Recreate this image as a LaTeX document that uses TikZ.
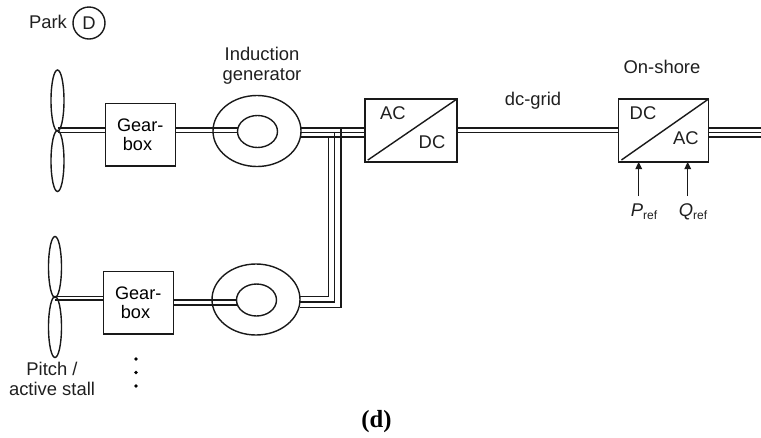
\documentclass[tikz,border=0pt]{standalone}
\usepackage{fontspec}
\setmainfont{Liberation Sans}
\newfontfamily\capfont{Liberation Serif}
\usetikzlibrary{shapes.geometric,arrows.meta}
\def\pxu{0.75pt}
\newcommand{\refsub}[1]{\textit{#1}\raisebox{-2.2pt}{\fontsize{9}{9}\selectfont ref}}
\tikzset{
  wire/.style={line width=1.05pt,black!90},
  shape line/.style={draw=black!90,line width=1.05pt,inner sep=0pt,outer sep=0pt},
  ell/.style={shape line,ellipse},
  blade/.style={ell,minimum width=13*\pxu,minimum height=61*\pxu},
  genout/.style={ell,minimum width=88*\pxu,minimum height=71*\pxu},
  genin/.style={ell,minimum width=40*\pxu,minimum height=32*\pxu},
  gearbox/.style={shape line,rectangle,minimum width=70*\pxu,minimum height=62.5*\pxu,align=center,font=\fontsize{13.6}{15}\selectfont},
  conv/.style={shape line,rectangle,minimum width=90*\pxu,minimum height=63*\pxu},
  lbl/.style={inner sep=0pt,outer sep=0pt,align=center,text=black!88,font=\fontsize{13.8}{15}\selectfont},
  diag/.style={line width=1.05pt,black!90,shorten <=2.5pt},
  ref arrow/.style={line width=1.1pt,black!90,-{Triangle[length=5.5pt,width=5pt]}},
  dotm/.style={circle,fill=black,inner sep=0pt,minimum size=2.9pt}
}
\begin{document}
\begin{tikzpicture}[x=0.75pt,y=-0.75pt]
\useasboundingbox (0,0) rectangle (761,437);
% levels
\foreach \n/\v in {a/128,b/132.5,c/137,d/296.5,e/300,f/302,g/305,h/307.5}{\coordinate (lv\n) at (0,\v);}
% park
\node[lbl] (park) at (48,22) {Park};
\node[shape line,circle,minimum size=32*\pxu] (parkc) at (89,23) {};
\node[lbl] (parkd) at (89,23) {D};
% upper string
\node[blade] (bl1a) at (57.5,100.5) {};
\node[blade] (bl1b) at (57.5,161) {};
\node[gearbox] (gb1) at (140.2,134.8) {Gear-\\[-0.5pt]\hspace*{-4pt}box};
\node[genout] (go1) at (257,131) {};
\node[genin] (gi1) at (257.5,131.5) {};
\node[lbl] (ig) at (262,66) {Induction\\generator};
\node[conv,minimum width=92*\pxu] (c1) at (411,130.5) {};
\node[conv] (c2) at (663.7,130.4) {};
% lower string
\node[blade] (bl2a) at (55,267) {};
\node[blade] (bl2b) at (55,327) {};
\node[gearbox] (gb2) at (138.2,302.7) {Gear-\\[-0.5pt]\hspace*{-4pt}box};
\node[genout] (go2) at (256,299.5) {};
\node[genin] (gi2) at (256.5,300) {};
% shafts
\draw[wire] (bl1a.south|-lva) -- (gb1.west|-lva);
\draw[wire] (bl1a.south|-lvb) -- (gb1.west|-lvb);
\draw[wire] (gb1.east|-lva) -- (gi1.west|-lva);
\draw[wire] (gb1.east|-lvb) -- (gi1.west|-lvb);
\draw[wire] (bl2a.south|-lvd) -- (gb2.west|-lvd);
\draw[wire] (bl2a.south|-lve) -- (gb2.west|-lve);
\draw[wire] (gb2.east|-lve) -- (gi2.west|-lve);
\draw[wire] (gb2.east|-lvg) -- (gi2.west|-lvg);
% stator / rotor lines to converter
\draw[wire] (go1.east|-lva) -- (c1.west|-lva);
\draw[wire] (go1.east|-lvb) -- (c1.west|-lvb);
\draw[wire] (go1.east|-lvc) -- (c1.west|-lvc);
% collector
\coordinate (v1) at (328.5,0);
\coordinate (v2) at (334.5,0);
\coordinate (v3) at (341,0);
\draw[wire] (v1|-lvc) -- (v1|-lvd) -- (go2.east|-lvd);
\draw[wire] (v2|-lvb) -- (v2|-lvf) -- (go2.east|-lvf);
\draw[wire] (v3|-lva) -- (v3|-lvh) -- (go2.east|-lvh);
% dc grid
\draw[wire] (c1.east|-lva) -- (c2.west|-lva);
\draw[wire] (c1.east|-lvb) -- (c2.west|-lvb);
\coordinate (grid) at (761,0);
\draw[wire] (c2.east|-lva) -- (grid|-lva);
\draw[wire] (c2.east|-lvb) -- (grid|-lvb);
\draw[wire] (c2.east|-lvc) -- (grid|-lvc);
% converters
\draw[diag] (c1.south west) -- (c1.north east);
\draw[diag] (c2.south west) -- (c2.north east);
\node[lbl] (t1) at (393,113) {AC};
\node[lbl] (t2) at (432,142) {DC};
\node[lbl] (t3) at (643,113) {DC};
\node[lbl] (t4) at (686,138) {AC};
\node[lbl] (dcg) at (533,101) {dc-grid};
\node[lbl] (ons) at (662,67) {On-shore};
\node[lbl] (pr) at (644,212) {\refsub{P}};
\node[lbl] (qr) at (693,212) {\refsub{Q}};
\coordinate (pa) at (638.7,196);
\coordinate (qa) at (687.7,196);
\draw[ref arrow] (pa) -- (pa|-c2.south);
\draw[ref arrow] (qa) -- (qa|-c2.south);
% lower labels
\node[lbl] (ps) at (52,379) {Pitch /\\active stall};
\node[dotm] (d1) at (136,359) {};
\node[dotm] (d2) at (136,372.5) {};
\node[dotm] (d3) at (136,386) {};
\node[inner sep=0pt,font=\capfont\bfseries\fontsize{18.5}{18.5}\selectfont] (cap) at (376.5,422) {(d)};
\end{tikzpicture}
\end{document}
